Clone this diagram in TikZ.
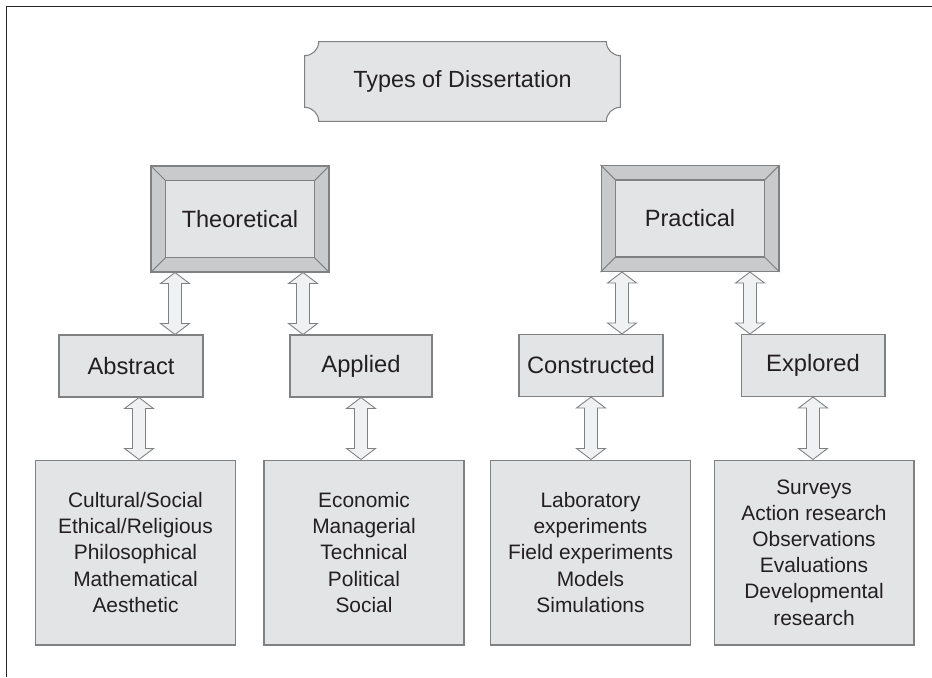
\documentclass[tikz,border=0pt]{standalone}
\usepackage{fontspec}
\setmainfont{Liberation Sans}
\usetikzlibrary{calc, backgrounds}
\definecolor{boxgray}{RGB}{227,228,230}
\definecolor{bevelgray}{RGB}{201,202,204}
\definecolor{edgegray}{RGB}{128,129,131}
\definecolor{arrowgray}{RGB}{240,241,243}
\definecolor{inkgray}{RGB}{35,31,32}

% hollow two-headed block arrow from #1 (top tip) down to #2 (bottom tip)
\newcommand{\dblarrow}[2]{%
  \draw[dblarr] (#1) -- ($(#1)+(14.5,-11)$) -- ($(#1)+(6.5,-11)$)
    -- ($(#2)+(6.5,11)$) -- ($(#2)+(14.5,11)$) -- (#2)
    -- ($(#2)+(-14.5,11)$) -- ($(#2)+(-6.5,11)$)
    -- ($(#1)+(-6.5,-11)$) -- ($(#1)+(-14.5,-11)$) -- cycle;}

\begin{document}
\begin{tikzpicture}[x=0.02cm, y=0.02cm,
  every node/.style={text=inkgray, align=center, inner sep=0pt},
  titleb/.style={minimum width=6.3cm, minimum height=1.58cm,
                 font=\fontsize{13.3}{16}\selectfont},
  mainb/.style={draw=edgegray, line width=0.6pt,
                minimum width=3.56cm, minimum height=2.12cm,
                font=\fontsize{13.4}{16}\selectfont},
  subb/.style={draw=edgegray, fill=boxgray, line width=0.6pt,
               minimum width=2.88cm, minimum height=1.24cm,
               font=\fontsize{13.5}{16}\selectfont},
  listb/.style={draw=edgegray, fill=boxgray, line width=0.6pt,
                minimum width=4.0cm, minimum height=3.7cm,
                font=\fontsize{11.9}{14.9}\selectfont},
  dblarr/.style={draw=edgegray, fill=arrowgray, line width=0.5pt},
  frameline/.style={draw=black!85, line width=0.9pt},
]
\useasboundingbox (0,0) rectangle (932,-677);

% Frame
\draw[frameline] (6.5,-677) -- (6.5,-6.5) -- (932,-6.5);

% Title
\node[titleb] (types) at (462.5,-81.5) {Types of Dissertation};

% Two main kinds
\node[mainb] (theo) at (240,-219)   {Theoretical};
\node[mainb] (prac) at (690,-218.5) {Practical};

% Sub kinds
\node[subb] (abstract)    at (131,-366)   {Abstract};
\node[subb, minimum width=2.84cm] (applied) at (361,-366) {Applied};
\node[subb] (constructed) at (591,-365.5) {Constructed};
\node[subb] (explored)    at (813,-365.5) {Explored};

% Lists
\node[listb] (cult) at (135.5,-552.5)
  {Cultural/Social\\Ethical/Religious\\Philosophical\\Mathematical\\Aesthetic};
\node[listb] (econ) at (364,-552.5)
  {Economic\\Managerial\\Technical\\Political\\Social};
\node[listb] (lab)  at (590.5,-552.5)
  {Laboratory\\experiments\\Field experiments\\Models\\Simulations};
\node[listb] (surv) at (814,-552.5)
  {Surveys\\Action research\\Observations\\Evaluations\\Developmental\\research};

% Title box with scooped corners, bevelled frames
\begin{scope}[on background layer]
  \draw[draw=edgegray, fill=boxgray, line width=0.6pt]
    ($(types.north west)+(14,0)$) -- ($(types.north east)+(-14,0)$)
    arc[start angle=180, end angle=270, radius=14]
    -- ($(types.south east)+(0,14)$)
    arc[start angle=90, end angle=180, radius=14]
    -- ($(types.south west)+(14,0)$)
    arc[start angle=0, end angle=90, radius=14]
    -- ($(types.north west)+(0,-14)$)
    arc[start angle=270, end angle=360, radius=14] -- cycle;
  \foreach \b in {theo, prac} {
    \fill[bevelgray] (\b.north west) rectangle (\b.south east);
    \draw[edgegray, line width=0.6pt, fill=boxgray]
      ($(\b.north west)+(15,-15)$) rectangle ($(\b.south east)+(-15,15)$);
    \draw[edgegray, line width=0.6pt]
      (\b.north west) -- ++(15,-15)
      (\b.north east) -- ++(-15,-15)
      (\b.south west) -- ++(15,15)
      (\b.south east) -- ++(-15,15);
  }
\end{scope}

% Arrows: main kinds <-> sub kinds
\coordinate (ta) at ($(theo.south)+(-65,0)$);
\coordinate (tb) at ($(theo.south)+(63,0)$);
\coordinate (pa) at ($(prac.south)+(-68,0)$);
\coordinate (pb) at ($(prac.south)+(60,0)$);
\dblarrow{ta}{ta |- abstract.north}
\dblarrow{tb}{tb |- applied.north}
\dblarrow{pa}{pa |- constructed.north}
\dblarrow{pb}{pb |- explored.north}

% Arrows: sub kinds <-> lists
\coordinate (aa) at ($(abstract.south)+(8,0)$);
\dblarrow{aa}{aa |- cult.north}
\dblarrow{applied.south}{applied.south |- econ.north}
\dblarrow{constructed.south}{constructed.south |- lab.north}
\dblarrow{explored.south}{explored.south |- surv.north}

\end{tikzpicture}
\end{document}
